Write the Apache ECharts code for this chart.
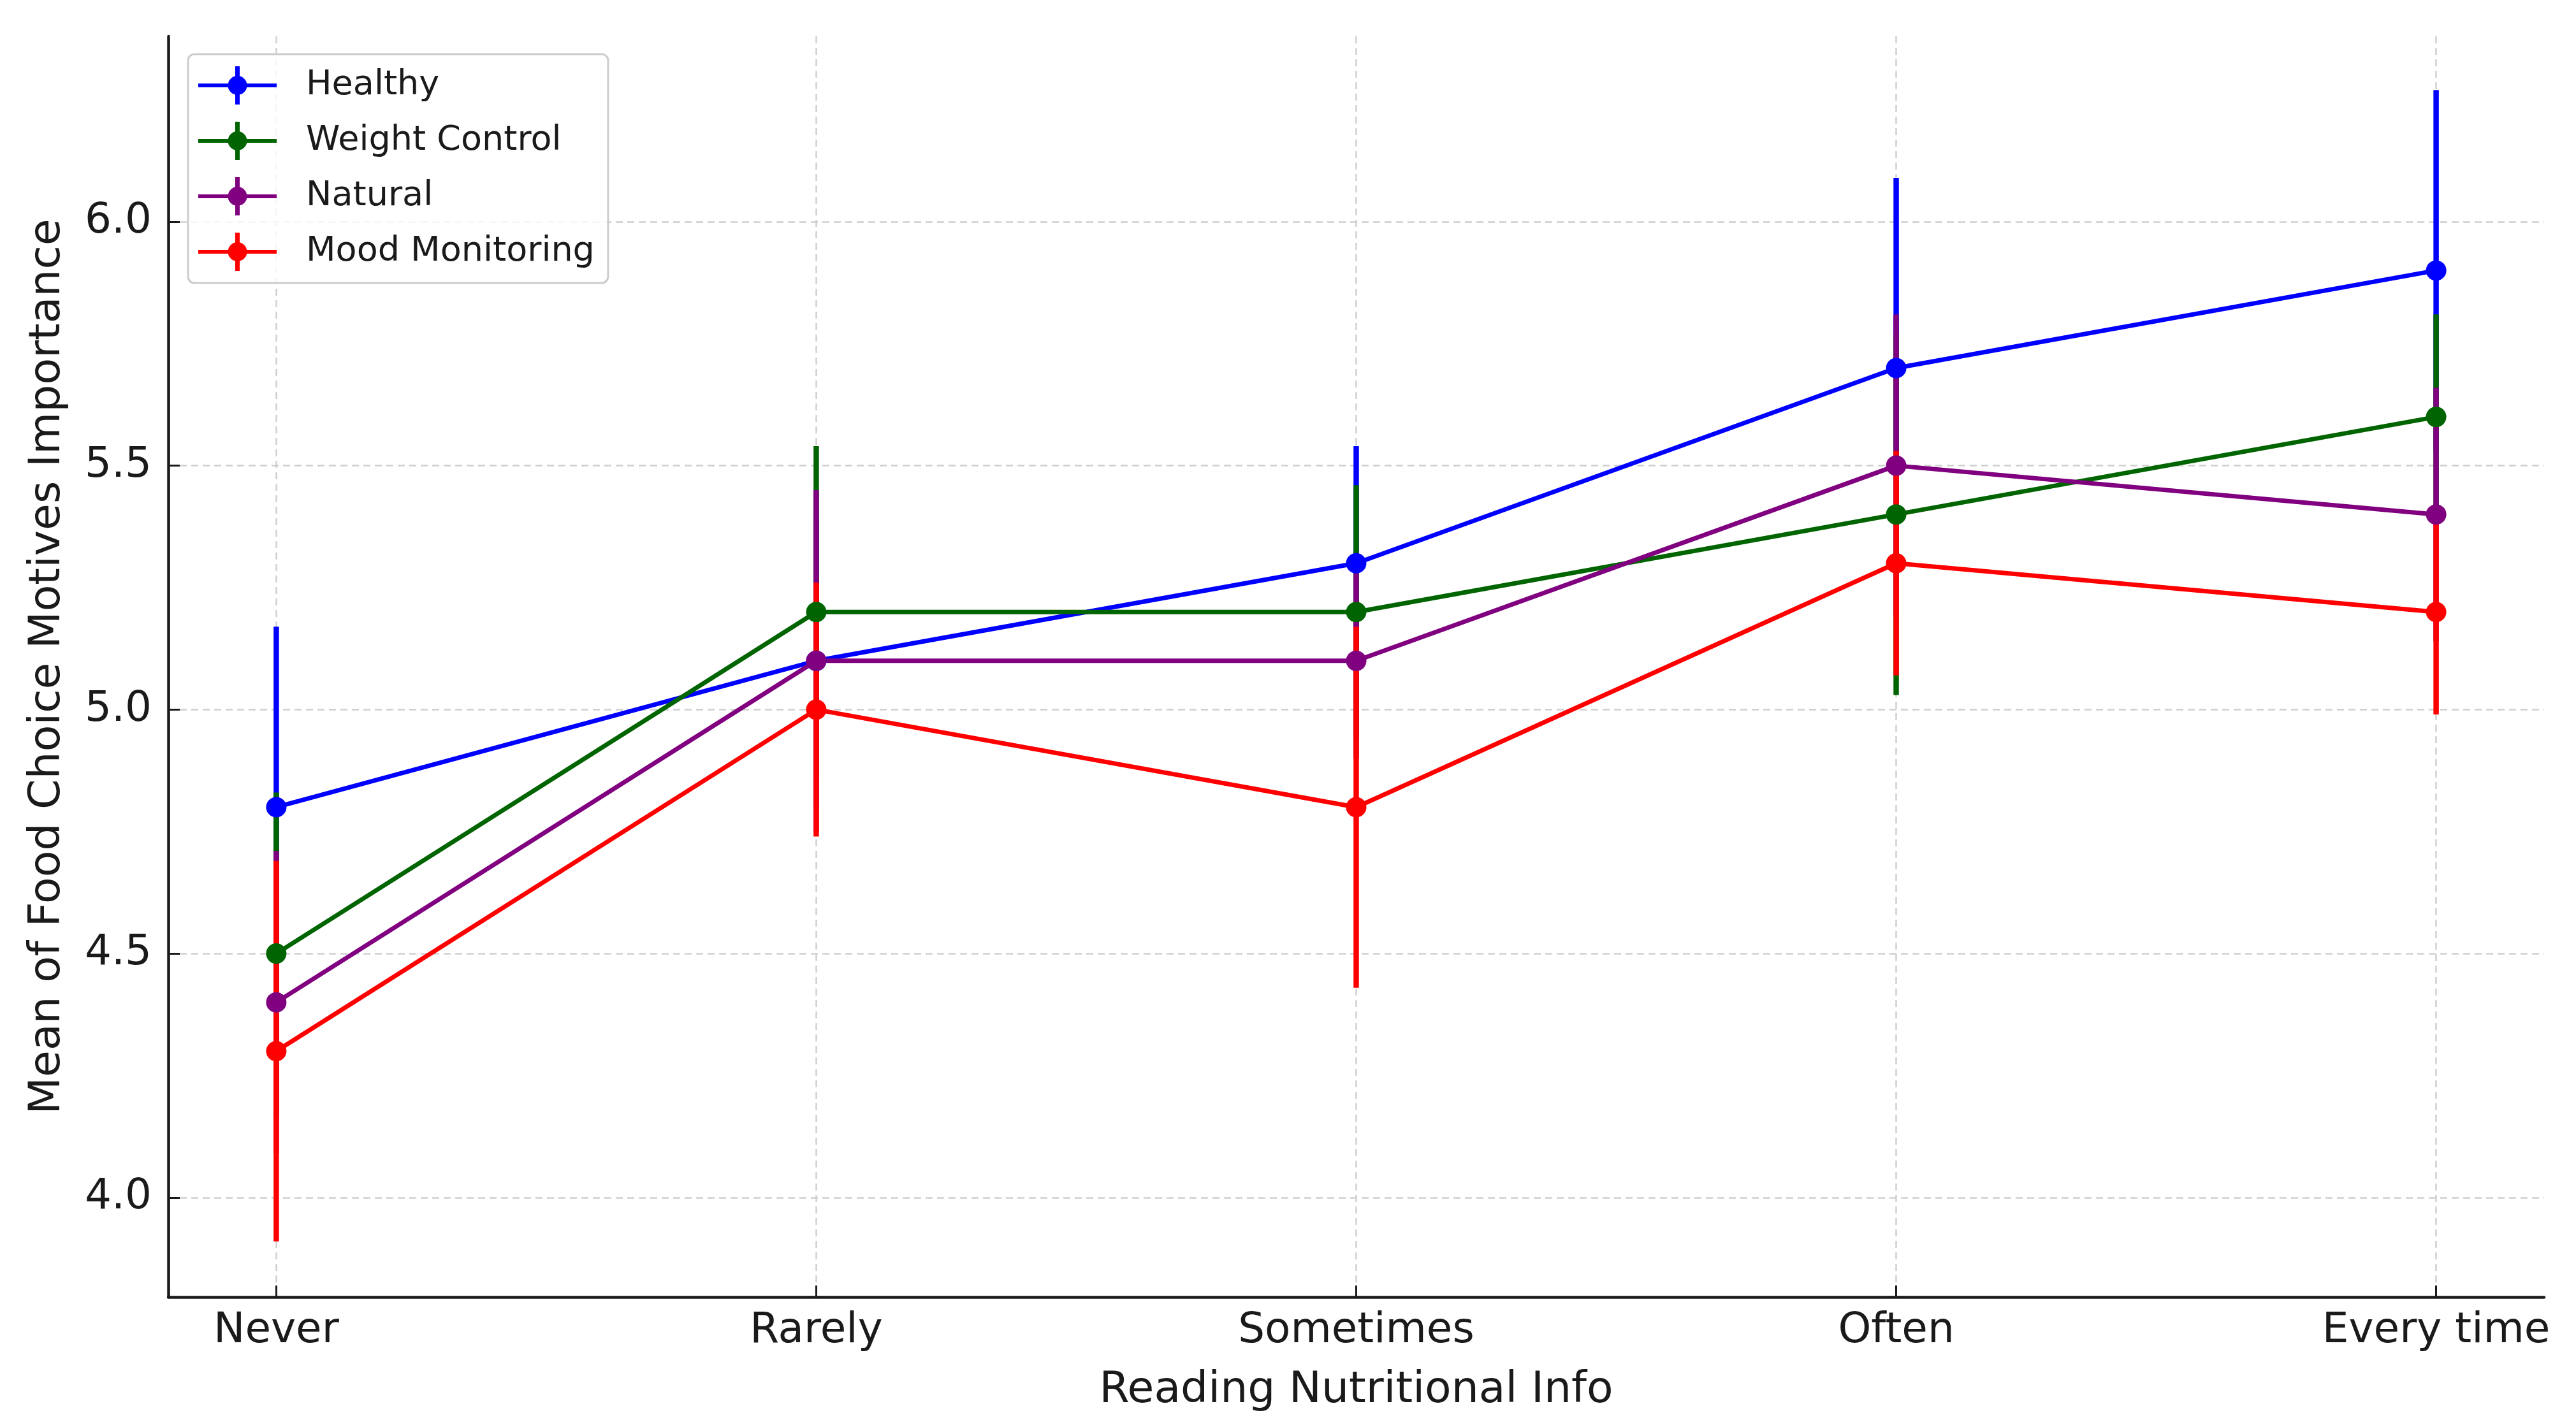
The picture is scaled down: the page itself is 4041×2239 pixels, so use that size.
<!DOCTYPE html>
<html><head><meta charset="utf-8">
<script src="https://cdn.jsdelivr.net/npm/echarts@6/dist/echarts.min.js"></script>
<style>html,body{margin:0;padding:0;background:#fff}#c{width:4041px;height:2239px}</style>
</head><body><div id="c"></div>
<script>
const categories = ['Never', 'Rarely', 'Sometimes', 'Often', 'Every time'];
const xTicks = [0, 1, 2, 3, 4];
const yTicks = [4.0, 4.5, 5.0, 5.5, 6.0];
const seriesNames = ['Healthy', 'Weight Control', 'Natural', 'Mood Monitoring'];
const healthy = [4.8, 5.1, 5.3, 5.7, 5.9];
const healthyErr = [0.37, 0.30, 0.24, 0.39, 0.37];
const weightControl = [4.5, 5.2, 5.2, 5.4, 5.6];
const weightControlErr = [0.33, 0.34, 0.26, 0.37, 0.21];
const natural = [4.4, 5.1, 5.1, 5.5, 5.4];
const naturalErr = [0.31, 0.35, 0.20, 0.31, 0.26];
const mood = [4.3, 5.0, 4.8, 5.3, 5.2];
const moodErr = [0.39, 0.26, 0.37, 0.23, 0.21];
const colors = ['#0000ff', '#006400', '#800080', '#ff0000'];

const means = [healthy, weightControl, natural, mood];
const errs = [healthyErr, weightControlErr, naturalErr, moodErr];
const FONT = 'DejaVu Sans';
const legendIcon = 'path://M0 27L123 27L123 33L0 33Z M58 0L65 0L65 60L58 60Z M46.5 30A15 15 0 1 1 76.5 30A15 15 0 1 1 46.5 30Z M164 30L164 30.01';

const lineSeries = seriesNames.map((name, s) => ({
  name: name,
  type: 'line',
  z: 3,
  data: categories.map((c, i) => [i, means[s][i]]),
  symbol: 'circle',
  symbolSize: 32,
  itemStyle: { color: colors[s], borderWidth: 0 },
  lineStyle: { color: colors[s], width: 7 },
  emphasis: { disabled: true }
}));

const errSeries = seriesNames.map((name, s) => ({
  name: name,
  type: 'custom',
  z: 1,
  itemStyle: { color: colors[s] },
  data: categories.map((c, i) => [i, means[s][i] - errs[s][i], means[s][i] + errs[s][i]]),
  encode: { x: 0, y: [1, 2] },
  renderItem: function (params, api) {
    const x = api.value(0);
    const p1 = api.coord([x, api.value(1)]);
    const p2 = api.coord([x, api.value(2)]);
    return {
      type: 'line',
      shape: { x1: p1[0], y1: p1[1], x2: p2[0], y2: p2[1] },
      style: { stroke: colors[s], lineWidth: 8.5, lineCap: 'butt' }
    };
  }
}));

const chart = echarts.init(document.getElementById('c'), null, { renderer: 'canvas' });
chart.setOption({
  animation: false,
  backgroundColor: '#ffffff',
  textStyle: { fontFamily: FONT },
  grid: { left: 264, right: 50, top: 57, bottom: 204, containLabel: false },
  legend: {
    data: seriesNames,
    orient: 'vertical',
    left: 295,
    top: 85,
    icon: legendIcon,
    itemWidth: 164,
    itemHeight: 60,
    itemGap: 27,
    padding: [19, 21, 19, 16],
    backgroundColor: 'rgba(255,255,255,0.8)',
    borderColor: '#cccccc',
    borderWidth: 3,
    borderRadius: 10,
    itemStyle: { borderWidth: 0 },
    textStyle: { fontFamily: FONT, fontSize: 54, color: '#1a1a1a' }
  },
  xAxis: {
    type: 'value',
    min: -0.2,
    max: 4.2,
    name: 'Reading Nutritional Info',
    nameLocation: 'middle',
    nameGap: 113,
    nameTextStyle: { fontFamily: FONT, fontSize: 68, color: '#1a1a1a' },
    axisLine: { show: true, onZero: false, lineStyle: { color: '#1a1a1a', width: 4.5 } },
    axisTick: { show: true, inside: true, length: 18, customValues: xTicks, lineStyle: { color: '#1a1a1a', width: 3 } },
    axisLabel: {
      customValues: xTicks,
      margin: 21,
      fontFamily: FONT, fontSize: 66, color: '#1a1a1a',
      formatter: function (v) { return categories[Math.round(v)]; }
    },
    splitLine: { show: true, lineStyle: { color: '#cfcfcf', width: 2.5, type: [11, 7] } }
  },
  yAxis: {
    type: 'value',
    min: 3.796,
    max: 6.38,
    name: 'Mean of Food Choice Motives Importance',
    nameLocation: 'middle',
    nameGap: 155,
    nameTextStyle: { fontFamily: FONT, fontSize: 68, color: '#1a1a1a' },
    axisLine: { show: true, onZero: false, lineStyle: { color: '#1a1a1a', width: 4.5 } },
    axisTick: { show: true, inside: true, length: 18, customValues: yTicks, lineStyle: { color: '#1a1a1a', width: 3 } },
    axisLabel: {
      customValues: yTicks,
      margin: 26,
      fontFamily: FONT, fontSize: 66, color: '#1a1a1a',
      formatter: function (v) { return v.toFixed(1); }
    },
    splitLine: { show: true, lineStyle: { color: '#cfcfcf', width: 2.5, type: [11, 7] } }
  },
  series: lineSeries.concat(errSeries)
});
</script></body></html>
